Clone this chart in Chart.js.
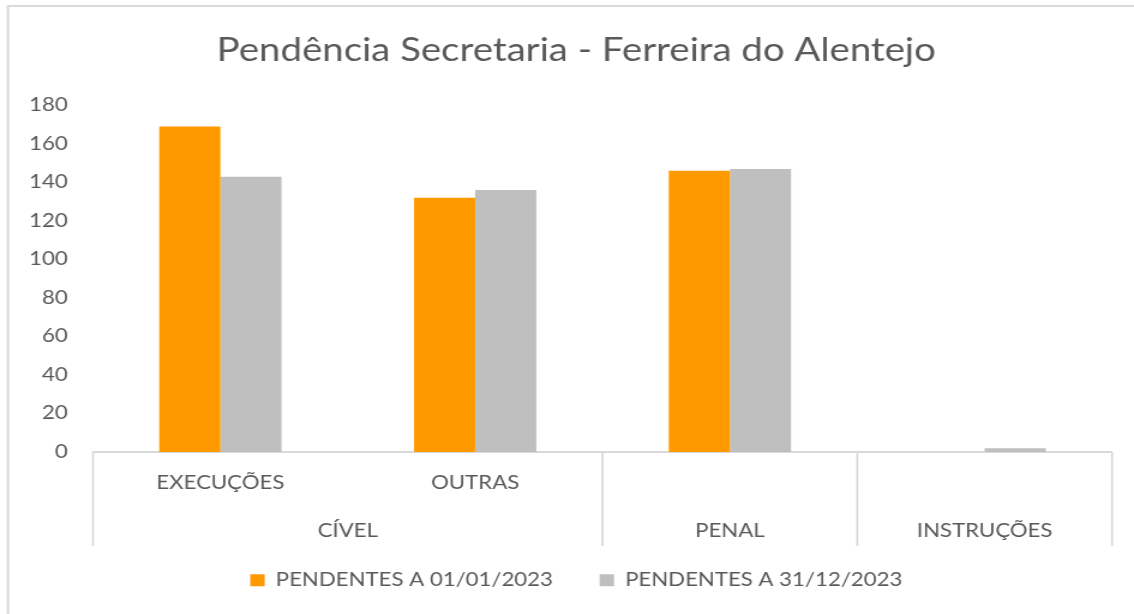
<!DOCTYPE html>
<html>
<head>
<meta charset="utf-8">
<script src="https://cdn.jsdelivr.net/npm/chart.js@4.4.1/dist/chart.umd.min.js"></script>
<style>
  html, body { margin: 0; padding: 0; background: #fff; overflow: hidden; }
  /* the reference image is stretched horizontally, so the chart is too */
  #wrap { width: 945px; height: 614px; position: relative; transform: scaleX(1.2); transform-origin: 0 0; }
</style>
</head>
<body>
<div id="wrap"><canvas id="chart"></canvas></div>
<script>
const subLabels = ['EXECUÇÕES', 'OUTRAS', '', ''];
const groupLabels = ['CÍVEL', 'CÍVEL', 'PENAL', 'INSTRUÇÕES'];
const categories = ['CÍVEL - EXECUÇÕES', 'CÍVEL - OUTRAS', 'PENAL', 'INSTRUÇÕES'];
const pendInicio = [169, 132, 146, 0];
const pendFim = [143, 136, 147, 2];
const seriesNames = ['PENDENTES A 01/01/2023', 'PENDENTES A 31/12/2023'];
const yTicks = [0, 20, 40, 60, 80, 100, 120, 140, 160, 180];

const FONT = 'Lato, "Open Sans", sans-serif';
const TXT = '#595959';
const LINE = '#d9d9d9';
const FS = 18.5;

// frame + multi-level category axis (lines and group labels)
const groupAxis = {
  id: 'groupAxis',
  beforeDraw(chart) {
    const c = chart.ctx;
    c.save();
    c.strokeStyle = LINE; c.lineWidth = 2;
    c.beginPath(); c.moveTo(6.7, 614); c.lineTo(6.7, 6); c.lineTo(chart.width, 6); c.stroke();
    c.restore();
  },
  afterDraw(chart) {
    const x = chart.scales.x, area = chart.chartArea, c = chart.ctx;
    const half = (x.getPixelForValue(1) - x.getPixelForValue(0)) / 2;
    const y0 = area.bottom, y1 = area.bottom + 94;
    c.save();
    c.strokeStyle = LINE; c.lineWidth = 1.7;
    // boundaries where the group label changes
    const edges = [0];
    for (let i = 1; i < groupLabels.length; i++) if (groupLabels[i] !== groupLabels[i - 1]) edges.push(i);
    edges.push(groupLabels.length);
    edges.forEach(i => {
      const px = x.getPixelForValue(i) - half;
      c.beginPath(); c.moveTo(px, y0); c.lineTo(px, y1); c.stroke();
    });
    c.fillStyle = TXT; c.font = FS + 'px ' + FONT; c.textAlign = 'center'; c.textBaseline = 'middle';
    for (let k = 0; k < edges.length - 1; k++) {
      const a = x.getPixelForValue(edges[k]) - half, b = x.getPixelForValue(edges[k + 1] - 1) + half;
      c.fillText(groupLabels[edges[k]], (a + b) / 2, area.bottom + 79);
    }
    c.restore();
  }
};

new Chart(document.getElementById('chart'), {
  type: 'bar',
  data: {
    labels: categories,
    datasets: [
      { label: seriesNames[0], data: pendInicio, backgroundColor: '#ff9900', borderWidth: 0 },
      { label: seriesNames[1], data: pendFim, backgroundColor: '#bfbfbf', borderWidth: 0 },
    ],
  },
  options: {
    responsive: true, maintainAspectRatio: false, animation: false,
    layout: { padding: { left: 15.5, right: 0, top: 0, bottom: 14.5 } },
    categoryPercentage: 0.48, barPercentage: 1,
    plugins: {
      title: {
        display: true, text: 'Pendência Secretaria - Ferreira do Alentejo',
        color: TXT, font: { family: FONT, size: 32, weight: 'normal' },
        padding: { top: 31, bottom: 36 },
      },
      legend: {
        position: 'bottom',
        labels: {
          color: TXT, font: { family: FONT, size: FS }, boxWidth: 12, boxHeight: 12, padding: 25,
          // wider gap between the two entries than the vertical padding
          generateLabels: chart => Chart.defaults.plugins.legend.labels.generateLabels(chart)
            .map((l, i, all) => i < all.length - 1 ? { ...l, text: l.text + '\u2003' } : l),
        },
      },
      tooltip: { enabled: false },
    },
    scales: {
      x: {
        grid: { display: false, drawTicks: false },
        border: { display: true, color: LINE, width: 2 },
        ticks: { color: TXT, font: { family: FONT, size: FS }, padding: 20, maxRotation: 0, autoSkip: false,
          callback: (v, i) => subLabels[i] },
        afterFit: s => { s.height = 94; },
      },
      y: {
        min: 0, max: 180,
        grid: { display: false, drawTicks: false },
        border: { display: false },
        ticks: { color: TXT, font: { family: FONT, size: FS }, padding: 21 },
        afterBuildTicks: s => { s.ticks = yTicks.map(v => ({ value: v })); },
        afterFit: s => { s.width = 62; },
      },
      // empty right-hand spacer so the plot stops short of the frame
      y2: {
        position: 'right',
        grid: { display: false, drawTicks: false },
        border: { display: false },
        ticks: { display: false },
        afterFit: s => { s.width = 18.3; },
      },
    },
  },
  plugins: [groupAxis],
});
</script>
</body>
</html>
